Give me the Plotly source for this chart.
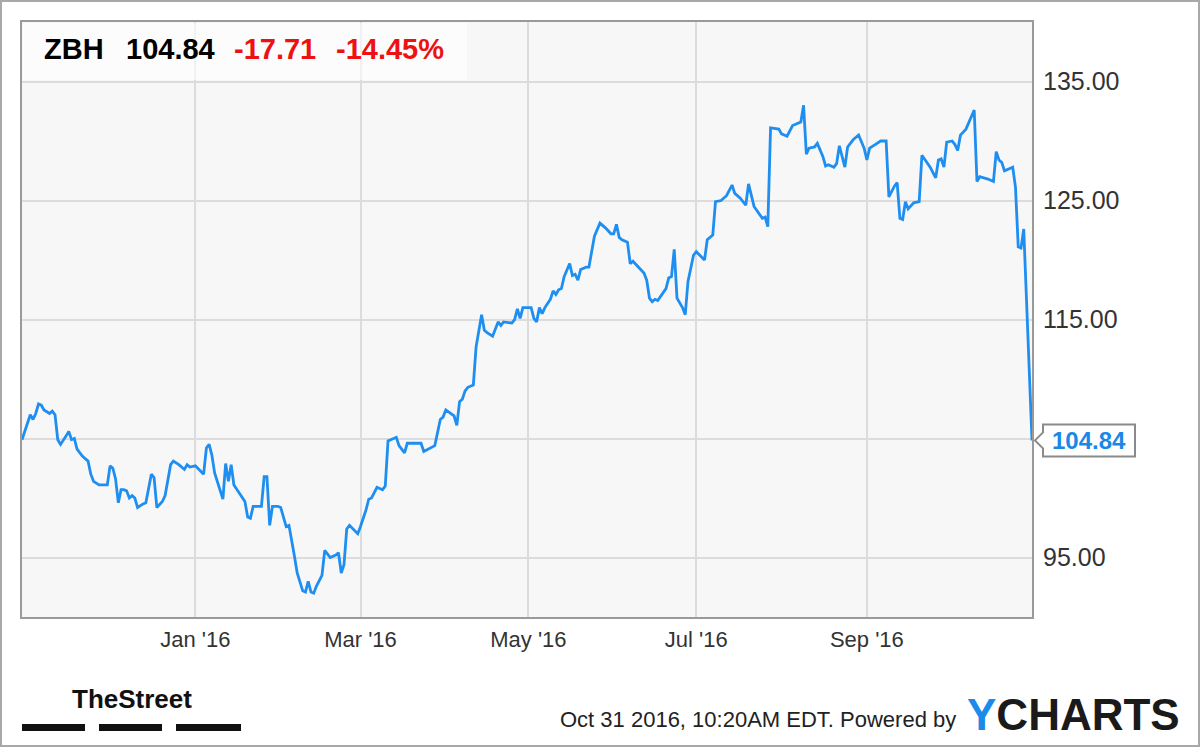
import plotly.graph_objects as go

# ---------------- data ----------------
ticker = "ZBH"
last_price = 104.84
change = -17.71
change_pct = -14.45
timestamp = "Oct 31 2016, 10:20AM EDT."

dates = [
    "2015-10-30", "2015-11-01", "2015-11-02", "2015-11-03", "2015-11-04", "2015-11-05", "2015-11-06",
    "2015-11-07", "2015-11-09", "2015-11-10", "2015-11-11", "2015-11-12", "2015-11-13", "2015-11-15",
    "2015-11-16", "2015-11-17", "2015-11-18", "2015-11-19", "2015-11-21", "2015-11-23", "2015-11-24",
    "2015-11-25", "2015-11-27", "2015-11-30", "2015-12-01", "2015-12-02", "2015-12-03", "2015-12-04",
    "2015-12-05", "2015-12-06", "2015-12-07", "2015-12-08", "2015-12-09", "2015-12-10", "2015-12-11",
    "2015-12-13", "2015-12-14", "2015-12-16", "2015-12-17", "2015-12-18", "2015-12-20", "2015-12-21",
    "2015-12-23", "2015-12-24", "2015-12-26", "2015-12-28", "2015-12-29", "2015-12-30",
    "2016-01-01", "2016-01-04", "2016-01-05", "2016-01-06", "2016-01-07", "2016-01-08", "2016-01-09",
    "2016-01-11", "2016-01-12", "2016-01-13", "2016-01-14", "2016-01-15", "2016-01-17", "2016-01-19",
    "2016-01-20", "2016-01-21", "2016-01-22", "2016-01-25", "2016-01-26", "2016-01-27", "2016-01-28",
    "2016-01-29", "2016-01-31", "2016-02-01", "2016-02-03", "2016-02-04", "2016-02-06", "2016-02-07",
    "2016-02-09", "2016-02-10", "2016-02-11", "2016-02-12", "2016-02-13", "2016-02-14", "2016-02-16",
    "2016-02-17", "2016-02-19", "2016-02-21", "2016-02-22", "2016-02-23", "2016-02-24", "2016-02-25",
    "2016-02-26", "2016-02-29", "2016-03-01", "2016-03-03", "2016-03-04", "2016-03-05", "2016-03-07",
    "2016-03-09", "2016-03-10", "2016-03-11", "2016-03-14", "2016-03-15", "2016-03-17", "2016-03-18",
    "2016-03-21", "2016-03-23", "2016-03-24", "2016-03-28", "2016-03-30", "2016-03-31", "2016-04-01",
    "2016-04-04", "2016-04-05", "2016-04-06", "2016-04-07", "2016-04-08", "2016-04-09", "2016-04-11",
    "2016-04-12", "2016-04-14", "2016-04-15", "2016-04-16", "2016-04-18", "2016-04-20", "2016-04-21",
    "2016-04-22", "2016-04-25", "2016-04-26", "2016-04-27", "2016-04-28", "2016-04-29", "2016-05-02",
    "2016-05-03", "2016-05-04", "2016-05-05", "2016-05-06", "2016-05-07", "2016-05-09", "2016-05-10",
    "2016-05-11", "2016-05-12", "2016-05-13", "2016-05-14", "2016-05-16", "2016-05-17", "2016-05-18",
    "2016-05-19", "2016-05-20", "2016-05-22", "2016-05-23", "2016-05-25", "2016-05-27", "2016-05-29",
    "2016-05-31", "2016-06-01", "2016-06-02", "2016-06-03", "2016-06-04", "2016-06-06", "2016-06-07",
    "2016-06-08", "2016-06-10", "2016-06-12", "2016-06-13", "2016-06-14", "2016-06-15", "2016-06-16",
    "2016-06-17", "2016-06-20", "2016-06-21", "2016-06-22", "2016-06-23", "2016-06-24", "2016-06-26",
    "2016-06-27", "2016-06-28", "2016-06-30", "2016-07-01", "2016-07-04", "2016-07-05", "2016-07-07",
    "2016-07-08", "2016-07-10", "2016-07-12", "2016-07-14", "2016-07-15", "2016-07-17", "2016-07-19",
    "2016-07-20", "2016-07-22", "2016-07-24", "2016-07-25", "2016-07-26", "2016-07-27", "2016-07-28",
    "2016-07-31", "2016-08-01", "2016-08-03", "2016-08-05", "2016-08-07", "2016-08-08", "2016-08-09",
    "2016-08-10", "2016-08-11", "2016-08-13", "2016-08-14", "2016-08-16", "2016-08-17", "2016-08-18",
    "2016-08-20", "2016-08-21", "2016-08-22", "2016-08-24", "2016-08-25", "2016-08-27", "2016-08-29",
    "2016-08-31", "2016-09-01", "2016-09-02", "2016-09-04", "2016-09-06", "2016-09-08", "2016-09-09",
    "2016-09-11", "2016-09-12", "2016-09-13", "2016-09-14", "2016-09-15", "2016-09-16", "2016-09-18",
    "2016-09-20", "2016-09-21", "2016-09-24", "2016-09-26", "2016-09-27", "2016-09-28", "2016-09-29",
    "2016-09-30", "2016-10-02", "2016-10-03", "2016-10-04", "2016-10-05", "2016-10-06", "2016-10-07",
    "2016-10-10", "2016-10-11", "2016-10-12", "2016-10-14", "2016-10-15", "2016-10-17", "2016-10-18",
    "2016-10-19", "2016-10-20", "2016-10-21", "2016-10-24", "2016-10-25", "2016-10-26", "2016-10-27",
    "2016-10-28", "2016-10-31",
]

prices = [
    104.9, 106.4, 107.0, 106.6, 107.1, 107.9, 107.8,
    107.4, 107.1, 107.3, 107.0, 104.9, 104.5, 105.2,
    105.6, 104.9, 105.0, 104.1, 103.5, 103.1, 102.0,
    101.4, 101.1, 101.1, 102.7, 102.5, 101.6, 99.6,
    100.7, 100.7, 100.6, 100.0, 100.2, 100.0, 99.2,
    99.5, 99.6, 102.0, 101.7, 99.2, 99.7, 100.2,
    102.8, 103.1, 102.8, 102.4, 102.8, 102.6,
    102.7, 102.0, 104.2, 104.5, 103.6, 102.1, 101.3,
    99.9, 102.9, 101.4, 102.8, 101.1, 100.4, 99.7,
    98.4, 98.3, 99.3, 99.3, 101.8, 101.8, 97.7,
    99.3, 99.3, 99.2, 97.6, 97.7, 95.1, 93.7,
    92.2, 92.1, 93.0, 92.1, 92.0, 92.6, 93.5,
    95.6, 95.0, 95.2, 95.4, 93.7, 94.4, 97.4,
    97.7, 97.0, 97.6, 99.0, 99.9, 100.0, 100.9,
    100.7, 101.0, 104.8, 105.1, 104.4, 103.8, 104.6,
    104.6, 104.6, 103.9, 104.4, 106.6, 106.8, 107.4,
    106.9, 106.1, 108.1, 108.3, 109.0, 109.3, 109.5,
    112.7, 115.4, 114.1, 113.9, 113.6, 114.8, 114.5,
    114.8, 114.7, 115.0, 115.9, 115.1, 116.0, 116.0,
    115.1, 114.8, 116.0, 115.5, 116.0, 116.7, 117.4,
    117.1, 117.5, 117.6, 118.6, 119.7, 118.7, 118.8,
    118.3, 119.2, 119.4, 119.4, 122.0, 123.1, 122.7,
    122.2, 122.2, 123.0, 121.9, 121.7, 121.5, 119.7,
    119.9, 119.4, 118.9, 118.3, 116.8, 116.5, 116.7,
    116.6, 117.6, 118.5, 118.6, 120.9, 116.8, 116.0,
    115.4, 118.2, 120.4, 120.7, 120.0, 121.7, 122.1,
    124.9, 125.0, 125.4, 126.3, 125.6, 125.2, 124.6,
    126.4, 124.5, 123.9, 123.5, 123.6, 122.8, 131.1,
    131.0, 130.6, 130.4, 131.3, 131.5, 131.6, 133.0,
    128.9, 129.4, 129.5, 129.8, 128.7, 127.9, 128.0,
    127.8, 128.1, 129.6, 127.8, 129.5, 130.1, 130.5,
    129.4, 128.4, 129.4, 129.7, 130.0, 130.0, 125.3,
    126.2, 126.5, 123.5, 123.4, 124.9, 124.3, 124.8,
    124.9, 128.8, 127.8, 126.9, 128.4, 128.5, 127.8,
    129.9, 130.0, 129.7, 129.2, 130.5, 130.8, 131.0,
    132.6, 126.6, 127.0, 126.9, 126.8, 126.6, 129.1,
    128.4, 128.2, 127.5, 127.8, 126.1, 121.1, 121.0,
    122.6, 104.84,
]

x_range = ["2015-10-30", "2016-10-31"]
y_range = [90, 140]
x_tick_vals = ["2016-01-01", "2016-03-01", "2016-05-01", "2016-07-01", "2016-09-01"]
x_tick_text = ["Jan '16", "Mar '16", "May '16", "Jul '16", "Sep '16"]
y_tick_vals = [95, 105, 115, 125, 135]
y_tick_text = ["95.00", "", "115.00", "125.00", "135.00"]

# ---------------- layout constants ----------------
W, H = 1200, 747
PL, PR, PT, PB = 22, 1032, 22, 617  # plot area in pixels


def px(x):
    return x / W


def py(y):
    return 1 - y / H


LINE_BLUE = "#1e8ef0"
FONT = "Liberation Sans, Arial, Helvetica, sans-serif"

fig = go.Figure()
fig.add_trace(go.Scatter(
    x=dates, y=prices, mode="lines",
    line=dict(color=LINE_BLUE, width=2.8),
    hoverinfo="skip", showlegend=False,
))

fig.update_layout(
    width=W, height=H,
    margin=dict(l=0, r=0, t=0, b=0),
    paper_bgcolor="white",
    plot_bgcolor="#f7f7f7",
    showlegend=False,
    xaxis=dict(
        type="date", range=x_range, domain=[px(PL), px(PR)],
        tickvals=x_tick_vals, ticktext=x_tick_text,
        showgrid=True, gridcolor="#dcdcdc", gridwidth=2,
        showline=True, linecolor="#9a9a9a", linewidth=2, mirror=True,
        ticks="", zeroline=False, ticklabelstandoff=2,
        tickfont=dict(family=FONT, size=22, color="#333333"),
        fixedrange=True,
    ),
    yaxis=dict(
        range=y_range, domain=[py(PB), py(PT)], side="right",
        tickvals=y_tick_vals, ticktext=y_tick_text,
        showgrid=True, gridcolor="#dcdcdc", gridwidth=2,
        showline=True, linecolor="#9a9a9a", linewidth=2, mirror=True,
        ticks="", zeroline=False, ticklabelstandoff=4,
        tickfont=dict(family=FONT, size=25, color="#333333"),
        fixedrange=True,
    ),
)

shapes = []
# outer frame
shapes.append(dict(type="rect", xref="paper", yref="paper",
                   x0=px(1), x1=px(W - 1), y0=py(H - 1), y1=py(1),
                   line=dict(color="#a8a8a8", width=2), fillcolor="rgba(0,0,0,0)", layer="above"))
# header panel
shapes.append(dict(type="rect", xref="paper", yref="paper",
                   x0=px(PL + 1), x1=px(467), y0=py(80), y1=py(PT + 1),
                   line=dict(width=0), fillcolor="rgba(255,255,255,0.6)", layer="above"))

# last value label (box with a pointer), positioned in data units on y
units_per_px = (y_range[1] - y_range[0]) / (PB - PT)
v = prices[-1]
hh = 16 * units_per_px
nt = 8 * units_per_px
path = (f"M {px(PR + 3)},{v} L {px(1043)},{v + nt} L {px(1043)},{v + hh} "
        f"L {px(1135)},{v + hh} L {px(1135)},{v - hh} L {px(1043)},{v - hh} "
        f"L {px(1043)},{v - nt} Z")
shapes.append(dict(type="path", xref="paper", yref="y", path=path,
                   line=dict(color="#8a8a8a", width=2), fillcolor="white", layer="above"))

# TheStreet bars
for x0, x1 in [(22, 85), (99, 162), (176, 241)]:
    shapes.append(dict(type="rect", xref="paper", yref="paper",
                       x0=px(x0), x1=px(x1), y0=py(731), y1=py(724),
                       line=dict(width=0), fillcolor="#111111", layer="above"))

fig.update_layout(shapes=shapes)

ann = []
# header
hy = py(49)
for xl, txt, col in [(42, ticker, "#000000"), (124, f"{last_price:.2f}", "#000000"),
                     (232, f"{change:.2f}", "#ee1111"), (334, f"{change_pct:.2f}%", "#ee1111")]:
    ann.append(dict(x=px(xl), y=hy, xref="paper", yref="paper", xanchor="left", yanchor="middle",
                    text=f"<b>{txt}</b>", showarrow=False,
                    font=dict(family=FONT, size=29, color=col)))
# last value text
ann.append(dict(x=px(1089), y=v, xref="paper", yref="y", xanchor="center", yanchor="middle",
                text=f"<b>{v:.2f}</b>", showarrow=False,
                font=dict(family=FONT, size=24, color="#1a88e6")))
# footer
ann.append(dict(x=px(132), y=py(699), xref="paper", yref="paper", xanchor="center", yanchor="middle",
                text="<b>TheStreet</b>", showarrow=False,
                font=dict(family=FONT, size=26, color="#111111")))
ann.append(dict(x=px(958), y=py(719), xref="paper", yref="paper", xanchor="right", yanchor="middle",
                text=f"{timestamp} Powered by", showarrow=False,
                font=dict(family=FONT, size=22, color="#222222")))
ann.append(dict(x=px(965), y=py(714), xref="paper", yref="paper", xanchor="left", yanchor="middle",
                text="<b><span style='color:#1a8be8'>Y</span>CHARTS</b>", showarrow=False,
                font=dict(family=FONT, size=44, color="#1a1a1a")))
fig.update_layout(annotations=ann)

fig.write_html("out.html", config={"displayModeBar": False},
               post_script="document.body.style.margin='0';document.body.style.padding='0';")
